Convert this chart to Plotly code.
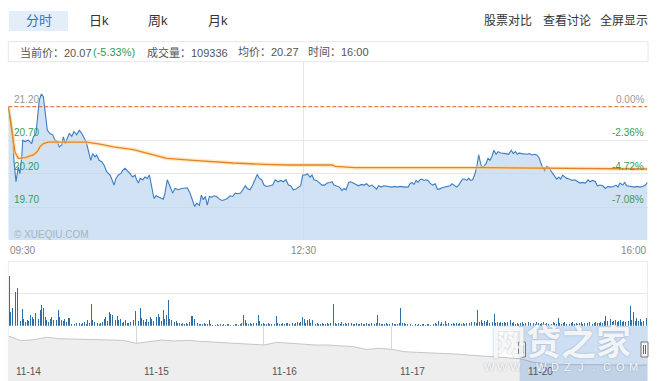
import numpy as np
import plotly.graph_objects as go

W, H = 658, 381
def px(x): return x / W
def py(y): return 1 - y / H

FONT = "Liberation Sans, Arial, Noto Sans CJK SC, sans-serif"

# ---------------- data ----------------
PREV_CLOSE = 21.20
current_price = 20.07
change_pct = -5.33
total_volume = 109336
avg_price = 20.27
last_time = "16:00"

tabs = ["分时", "日k", "周k", "月k"]
links = ["股票对比", "查看讨论", "全屏显示"]

time_ticks = [0, 180, 390]
time_labels = ["09:30", "12:30", "16:00"]
price_grid = [21.20, 20.70, 20.20, 19.70]

# minutes after 09:30
price_minutes = [
    0, 1.4, 2.7, 3.5, 4.7, 6.1, 7.1, 8.2, 8.8, 10.2, 12.2, 14.3, 15.3, 16.9, 17.7, 18.9, 20.2, 21.4, 22.6, 23.8,
    25.4, 27.1, 28.5, 29.9, 31.1, 32.6, 33.6, 34.8, 36.0, 37.2, 38.7, 40.1, 41.7, 43.3, 44.6, 45.8, 47.4, 48.8, 50.3, 51.5,
    52.9, 53.9, 55.4, 57.0, 58.4, 60.0, 62.1, 63.3, 64.5, 65.7, 67.1, 68.6, 69.8, 71.2, 72.6, 74.3, 75.9, 77.3, 78.3, 79.4,
    80.4, 82.0, 83.4, 84.8, 86.1, 87.5, 88.9, 90.1, 91.6, 93.2, 94.6,
    95.6, 97.0, 98.7, 100.3, 101.7, 103.7, 105.8, 107.8, 109.2, 110.9, 112.3, 113.7, 114.9, 116.6, 117.8, 119.0, 120.2, 121.4, 122.7, 124.1,
    125.5, 127.1, 128.8, 130.4, 132.0, 133.6, 135.3, 136.9, 138.5, 140.1, 141.8, 143.4, 144.6, 145.8, 147.5, 149.1, 150.7, 151.9, 153.2, 154.6,
    156.0, 157.6, 159.7, 161.3, 162.9, 164.6, 166.2, 167.8, 169.4, 170.9, 172.3, 173.9, 175.5, 177.0, 178.4, 179.6, 181.2, 182.5, 184.1, 185.3,
    186.5, 188.1, 189.8, 191.4, 193.0,
    194.6, 196.3, 197.5, 198.7, 200.3, 202.0, 203.6, 204.8, 206.0, 207.7, 208.9, 210.5, 212.1, 213.8, 215.4, 217.0, 218.6, 220.3, 221.9, 223.5,
    224.7, 226.0, 227.6, 229.2, 230.9, 232.5, 234.1, 235.7, 237.4, 239.0, 240.6, 242.2, 243.9, 245.1, 246.3, 247.5, 248.8, 250.0, 251.2, 252.4,
    253.6, 254.8, 256.1, 257.3, 258.9, 260.5, 261.8, 263.0, 264.6, 266.2, 267.9, 269.5, 270.7, 272.3, 273.6, 274.8, 276.0, 277.2, 278.4, 279.7,
    280.9, 282.1, 283.3, 284.5, 285.8, 287.0, 288.2,
    289.0, 290.2, 291.5, 292.7, 293.9, 295.1, 296.3, 297.6, 298.8, 300.4, 302.0, 303.7, 305.3, 306.9, 308.1, 309.4, 310.6, 311.8, 313.0, 314.6,
    316.3, 317.9, 319.5, 321.2, 322.4, 323.6, 324.8, 326.0, 327.3, 328.5, 329.7, 330.9, 332.1, 333.4, 334.6, 335.8, 337.0, 338.2, 339.5, 340.7,
    342.3, 343.9, 345.6, 347.2, 348.8, 350.4, 352.1, 353.7, 354.9, 356.5, 358.2, 359.4, 361.0, 362.7, 364.3, 365.9, 367.5, 369.2, 370.8, 372.0,
    373.2, 374.9, 376.1, 377.3, 378.9, 380.6, 382.2, 383.8, 385.4, 387.1, 388.7, 390.0,
]
price_values = [
    21.20, 21.03, 20.80, 20.38, 20.08, 20.30, 20.20, 20.45, 20.70, 20.68, 20.70, 20.65, 20.75, 20.80, 21.00, 21.30, 21.39, 21.35, 21.10, 20.85,
    20.80, 20.78, 20.70, 20.68, 20.60, 20.63, 20.75, 20.65, 20.73, 20.80, 20.76, 20.83, 20.78, 20.85, 20.81, 20.75, 20.68, 20.55, 20.40, 20.50,
    20.45, 20.48, 20.40, 20.38, 20.33, 20.23, 20.18, 20.11, 20.03, 20.13, 20.18, 20.20, 20.25, 20.28, 20.25, 20.20, 20.15, 20.18, 20.11, 20.06,
    20.13, 20.11, 20.15, 20.13, 20.18, 20.03, 19.83, 19.87, 19.85, 19.83, 19.82,
    19.91, 20.11, 20.01, 19.91, 19.98, 19.96, 19.98, 19.98, 19.99, 19.91, 19.81, 19.71, 19.76, 19.73, 19.88, 19.81, 19.86, 19.73, 19.86, 19.85,
    19.87, 19.86, 19.82, 19.80, 19.81, 19.83, 19.87, 19.86, 19.91, 19.90, 19.91, 19.98, 20.02, 19.98, 19.96, 20.03, 20.11, 20.19, 20.13, 20.11,
    20.03, 20.01, 20.02, 20.03, 20.11, 20.08, 20.10, 20.08, 20.11, 20.03, 20.02, 19.96, 19.97, 20.00, 20.02, 20.18, 20.18, 20.20, 20.15, 20.18,
    20.11, 20.10, 20.06, 20.03, 20.03,
    20.06, 20.07, 20.08, 20.03, 20.01, 20.00, 19.95, 19.98, 19.96, 20.07, 20.08, 20.06, 20.05, 20.02, 20.04, 20.03, 20.05, 20.01, 20.03, 19.99,
    19.97, 20.02, 20.00, 20.02, 20.01, 20.01, 20.00, 20.01, 20.00, 20.01, 20.00, 20.00, 20.00, 20.05, 20.07, 20.04, 20.10, 20.07, 20.11, 20.12,
    20.10, 20.11, 20.10, 20.06, 20.03, 20.05, 19.97, 19.97, 19.99, 20.00, 20.00, 20.02, 20.05, 20.02, 20.00, 20.03, 20.07, 20.12, 20.12, 20.10,
    20.13, 20.10, 20.11, 20.18, 20.30, 20.48, 20.35,
    20.30, 20.31, 20.35, 20.43, 20.40, 20.46, 20.55, 20.49, 20.53, 20.51, 20.51, 20.50, 20.49, 20.55, 20.50, 20.53, 20.49, 20.51, 20.50, 20.49,
    20.49, 20.50, 20.48, 20.49, 20.48, 20.45, 20.38, 20.29, 20.25, 20.31, 20.29, 20.25, 20.20, 20.15, 20.12, 20.15, 20.12, 20.18, 20.15, 20.13,
    20.12, 20.10, 20.11, 20.08, 20.06, 20.07, 20.06, 20.11, 20.08, 20.10, 20.08, 20.02, 20.03, 20.02, 19.98, 20.01, 20.00, 20.01, 20.03, 20.00,
    20.06, 20.03, 20.07, 20.02, 20.01, 20.00, 20.00, 20.01, 20.00, 20.01, 20.03, 20.07,
]

avg_minutes = [0, 2.0, 4.1, 6.1, 10.2, 15.3, 17.7, 19.3, 21.4, 24.4, 47.8, 55.9, 64.1, 76.3, 86.5,
               96.6, 112.9, 123.1, 137.3, 155.6, 171.9, 197.5, 199.5, 211.5, 287.8, 390]
avg_values = [21.19, 20.85, 20.52, 20.43, 20.44, 20.48, 20.53, 20.60, 20.65, 20.67, 20.67, 20.64, 20.60, 20.56, 20.50,
              20.43, 20.40, 20.38, 20.36, 20.34, 20.33, 20.33, 20.31, 20.29, 20.29, 20.27]

# one bar per minute (relative volume)
volume_values = [
    50, 14, 18, 28, 34, 38, 9, 5, 17, 7, 4, 6, 5, 11, 9, 7, 13, 6, 7, 16, 21, 18, 9, 6, 4, 7, 9, 6, 5, 6,
    16, 9, 6, 5, 7, 4, 8, 8, 2, 3, 2, 3, 2, 3, 2, 3, 4, 2, 6, 3, 22, 6, 4, 3, 3, 2, 3, 4, 7, 9,
    5, 14, 12, 11, 12, 6, 10, 6, 7, 3, 4, 6, 3, 3, 4, 2, 6, 15, 13, 5, 18, 8, 6, 4, 7, 4, 9, 7, 5, 44,
    9, 12, 9, 5, 16, 7, 11, 26, 7, 6, 6, 4, 5, 3, 3, 2, 3, 2, 3, 2, 4, 10, 10, 7, 4, 3, 2, 2, 2, 3,
    2, 2, 6, 2, 1, 2, 1, 2, 1, 2, 1, 2, 1, 2, 2, 1, 2, 1, 2, 2, 1, 2, 3, 11, 6, 3, 2, 3, 2, 3,
    2, 3, 11, 5, 2, 3, 2, 2, 3, 2, 2, 3, 2, 10, 3, 2, 2, 3, 2, 3, 3, 2, 4, 3, 2, 3, 4, 3, 4, 9,
    7, 3, 6, 7, 3, 6, 3, 2, 3, 2, 2, 3, 2, 2, 3, 2, 3, 2, 22, 3, 2, 3, 2, 4, 2, 3, 2, 3, 2, 3,
    2, 2, 3, 2, 2, 3, 2, 2, 3, 2, 2, 3, 2, 2, 3, 11, 3, 2, 2, 2, 3, 2, 2, 2, 3, 2, 2, 2, 3, 18,
    3, 3, 2, 2, 1, 2, 1, 2, 2, 1, 2, 1, 2, 2, 1, 2, 2, 1, 2, 2, 3, 2, 5, 2, 4, 2, 5, 2, 3, 2,
    2, 3, 2, 3, 2, 3, 2, 3, 2, 3, 2, 3, 4, 3, 4, 3, 16, 4, 6, 3, 5, 4, 6, 3, 8, 4, 12, 3, 4, 3,
    4, 3, 4, 3, 4, 3, 6, 3, 4, 2, 3, 2, 3, 4, 2, 3, 2, 4, 3, 2, 3, 2, 4, 3, 2, 3, 4, 2, 3, 2,
    3, 2, 4, 3, 2, 8, 3, 2, 3, 4, 2, 3, 2, 3, 4, 2, 3, 2, 3, 4, 2, 3, 2, 3, 4, 3, 2, 3, 4, 3,
    3, 4, 3, 5, 10, 5, 4, 7, 4, 5, 6, 4, 5, 6, 4, 5, 4, 6, 5, 20, 6, 14, 5, 8, 5, 7, 4, 5, 6, 8,
]

# five-day navigator, one value per tenth of a day
nav_dates = ["11-14", "11-15", "11-16", "11-17", "11-20"]
nav_prices = [
    26.65, 25.60, 25.82, 26.35, 26.05, 25.97, 25.90, 25.90, 25.75, 25.67,
    24.99, 25.45, 25.75, 25.52, 25.67, 25.45, 25.29, 25.06, 24.91, 24.84,
    24.61, 25.22, 24.99, 24.76, 24.61, 24.61, 24.46, 24.23, 23.60, 23.85,
    23.62, 23.09, 22.94, 22.87, 22.72, 22.56, 22.34, 22.11, 21.96, 21.73,
    21.50, 20.75, 20.29, 20.14, 20.06, 20.14, 20.14, 20.06, 19.99, 19.99, 20.06,
]

# ---------------- figure ----------------
X0, X1 = 8.3, 647.5
fig = go.Figure()

fig.add_trace(go.Scatter(x=price_minutes, y=price_values, mode="lines",
                         line=dict(color="#3b7dc4", width=1.1),
                         fill="tozeroy", fillcolor="rgba(190,215,240,0.72)",
                         xaxis="x", yaxis="y", hoverinfo="skip"))
fig.add_trace(go.Scatter(x=avg_minutes, y=avg_values, mode="lines",
                         line=dict(color="rgba(255,215,140,0.55)", width=4),
                         xaxis="x", yaxis="y", hoverinfo="skip"))
fig.add_trace(go.Scatter(x=avg_minutes, y=avg_values, mode="lines",
                         line=dict(color="#e4822a", width=1.3),
                         xaxis="x", yaxis="y", hoverinfo="skip"))

vol_x = np.arange(len(volume_values)) + 0.5
fig.add_trace(go.Bar(x=vol_x, y=volume_values, width=0.55,
                     marker=dict(color="#2f6fa8", line=dict(width=0)),
                     xaxis="x2", yaxis="y2", hoverinfo="skip"))

nav_x = np.arange(len(nav_prices)) * 0.1
fig.add_trace(go.Scatter(x=nav_x, y=nav_prices, mode="lines",
                         line=dict(color="#c6c6c6", width=1),
                         fill="tozeroy", fillcolor="#eeeeee",
                         xaxis="x3", yaxis="y3", hoverinfo="skip"))

ybot, ytop = 240.0, 62.0
def price_at(ypix):
    return PREV_CLOSE - (ypix - 106.7) / 67.0

noax = dict(showticklabels=False, zeroline=False, showline=False, ticks="")
fig.update_layout(
    width=W, height=H, margin=dict(l=0, r=0, t=0, b=0),
    paper_bgcolor="white", plot_bgcolor="rgba(0,0,0,0)",
    showlegend=False, hovermode=False, bargap=0,
    font=dict(family=FONT, size=11, color="#555"),
    xaxis=dict(domain=[px(X0), px(X1)], range=[0, 390], tickvals=[180],
               showgrid=True, gridcolor="#e6e6e6", anchor="y", **noax),
    yaxis=dict(domain=[py(ybot), py(ytop)], range=[price_at(ybot), price_at(ytop)],
               tickvals=price_grid[1:], showgrid=True, gridcolor="#e6e6e6", anchor="x", **noax),
    xaxis2=dict(domain=[px(X0), px(X1)], range=[0, 390], showgrid=False, anchor="y2", **noax),
    yaxis2=dict(domain=[py(325.7), py(262)], range=[0, 63.7], tickvals=[32],
                showgrid=True, gridcolor="#e8e8e8", anchor="x2", **noax),
    xaxis3=dict(domain=[px(X0), px(X1)], range=[0, 5], tickvals=[1, 2, 3, 4],
                showgrid=True, gridcolor="#d9d9d9", anchor="y3", **noax),
    yaxis3=dict(domain=[0, py(325.7)], range=[16.43, 29.0], showgrid=False, anchor="x3", **noax),
)

shapes = []
# previous close dashed line
shapes.append(dict(type="line", xref="x", yref="y", x0=0, x1=390, y0=PREV_CLOSE, y1=PREV_CLOSE,
                   line=dict(color="#c9652e", width=1, dash="4px,2px")))
# active tab
shapes.append(dict(type="rect", xref="paper", yref="paper", x0=px(9), x1=px(68), y0=py(31), y1=py(11),
                   fillcolor="#e4eef9", line=dict(width=0), layer="below"))
# info bar
shapes.append(dict(type="rect", xref="paper", yref="paper", x0=px(8.3), x1=px(648), y0=py(61.7), y1=py(41.7),
                   line=dict(color="#e6e6e6", width=1)))
# lower box
shapes.append(dict(type="rect", xref="paper", yref="paper", x0=px(8.3), x1=px(647.5), y0=py(381), y1=py(261.7),
                   line=dict(color="#ececec", width=1)))
# navigator selection (last day)
shapes.append(dict(type="rect", xref="x3", yref="paper", x0=4, x1=5, y0=0, y1=py(325.7),
                   fillcolor="rgba(51,122,204,0.24)", line=dict(width=0)))
# handles
for hx in (522, 644.5):
    shapes.append(dict(type="rect", xref="paper", yref="paper", x0=px(hx - 3.5), x1=px(hx + 3.5),
                       y0=py(357), y1=py(342), fillcolor="#f4f4f4", line=dict(color="#777", width=1)))
    for dx in (-1, 1):
        shapes.append(dict(type="line", xref="paper", yref="paper", x0=px(hx + dx), x1=px(hx + dx),
                           y0=py(354), y1=py(345), line=dict(color="#666", width=1)))
fig.update_layout(shapes=shapes)

ann = []
def text(x, y, s, size=11, color="#555", anchor="center", **kw):
    ann.append(dict(xref="paper", yref="paper", x=px(x), y=py(y), text=s, showarrow=False,
                    xanchor=anchor, yanchor="middle", font=dict(family=FONT, size=size, color=color), **kw))

# tabs and links
for name, cx in zip(tabs, [38.5, 99, 158, 218]):
    text(cx, 20.7, name, size=13, color="#2d73c0" if name == "分时" else "#333")
for name, cx in zip(links, [508, 566.5, 624]):
    text(cx, 20.7, name, size=12, color="#333")

# info bar
text(18, 52.3, f"当前价：{current_price:.2f}", anchor="left")
text(91, 52.3, f"({change_pct:.2f}%)", color="#2a9d4e", anchor="left")
text(145, 52.3, f"成交量：{total_volume}", anchor="left")
text(236, 52.3, f"均价：{avg_price:.2f}", anchor="left")
text(306, 52.3, f"时间：{last_time}", anchor="left")

# price / percent labels
for p in price_grid:
    col = "#999" if p == PREV_CLOSE else "#3a9a5c"
    ann.append(dict(xref="paper", yref="y", x=px(11.5), y=p, text=f"{p:.2f}", showarrow=False,
                    xanchor="left", yanchor="bottom", font=dict(family=FONT, size=10, color=col)))
    pct = (p / PREV_CLOSE - 1) * 100
    ann.append(dict(xref="paper", yref="y", x=px(645.5), y=p, text=f"{pct:.2f}%", showarrow=False,
                    xanchor="right", yanchor="bottom", font=dict(family=FONT, size=10, color=col)))

# time labels
for t, lab, a in zip(time_ticks, time_labels, ["left", "center", "right"]):
    ann.append(dict(xref="x", yref="paper", x=t, y=py(250.7), text=lab, showarrow=False,
                    xanchor=a, yanchor="middle", font=dict(family=FONT, size=10, color="#888")))

text(12, 234.3, "© XUEQIU.COM", size=10, color="#a9b3bd", anchor="left")

# navigator dates
for i, d in enumerate(nav_dates):
    ann.append(dict(xref="x3", yref="paper", x=i, y=py(371), text=d, showarrow=False, xshift=6,
                    xanchor="left", yanchor="middle", font=dict(family=FONT, size=10, color="#555")))

# overlay watermark
wm_shadow = "0px 0px 2px rgba(90,110,130,0.55)"
ann.append(dict(xref="paper", yref="paper", x=px(561), y=py(339), text="网贷之家", showarrow=False,
                xanchor="center", yanchor="middle",
                font=dict(family="Noto Sans CJK SC", size=35, color="rgba(255,255,255,0.88)",
                          weight="bold", shadow=wm_shadow)))
for i, ch in enumerate("WWW.WDZJ.COM"):
    ann.append(dict(xref="paper", yref="paper", x=px(489 + i * 13.1), y=py(367), text=ch, showarrow=False,
                    xanchor="center", yanchor="middle",
                    font=dict(family=FONT, size=11, color="rgba(255,255,255,0.9)", shadow=wm_shadow)))

fig.update_layout(annotations=ann)
fig.write_html("out.html",
               config={"displayModeBar": False, "staticPlot": True},
               post_script="document.body.style.margin='0';document.body.style.padding='0';")
